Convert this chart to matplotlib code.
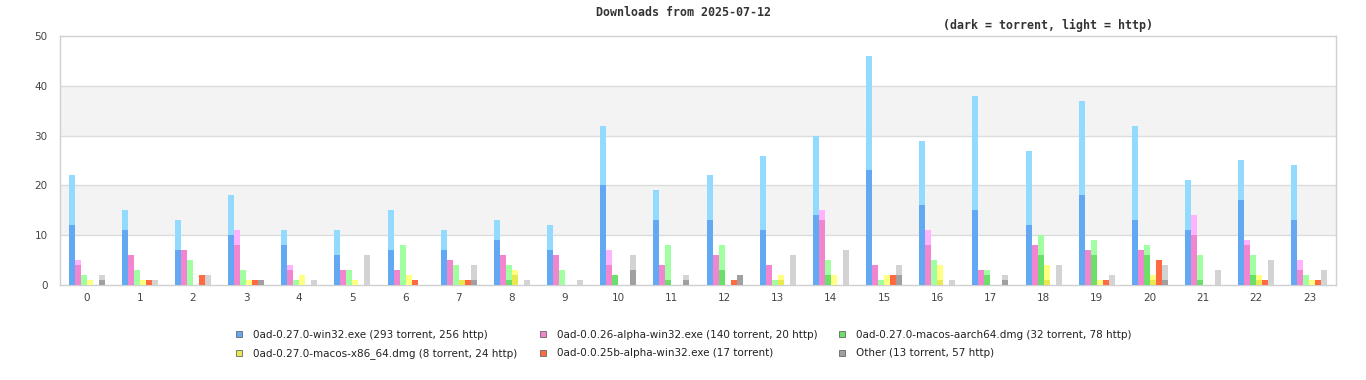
import numpy as np
import matplotlib
matplotlib.use("Agg")
import matplotlib.pyplot as plt
from matplotlib.lines import Line2D

hours = list(range(24))

labels = [
    "0ad-0.27.0-win32.exe (293 torrent, 256 http)",
    "0ad-0.0.26-alpha-win32.exe (140 torrent, 20 http)",
    "0ad-0.27.0-macos-aarch64.dmg (32 torrent, 78 http)",
    "0ad-0.27.0-macos-x86_64.dmg (8 torrent, 24 http)",
    "0ad-0.0.25b-alpha-win32.exe (17 torrent)",
    "Other (13 torrent, 57 http)",
]

# torrent / http downloads per hour
win32_t = [12, 11, 7, 10, 8, 6, 7, 7, 9, 7, 20, 13, 13, 11, 14, 23, 16, 15, 12, 18, 13, 11, 17, 13]
win32_h = [10, 4, 6, 8, 3, 5, 8, 4, 4, 5, 12, 6, 9, 15, 16, 23, 13, 23, 15, 19, 19, 10, 8, 11]
a26_t = [4, 6, 7, 8, 3, 3, 3, 5, 6, 6, 4, 4, 6, 4, 13, 4, 8, 3, 8, 7, 7, 10, 8, 3]
a26_h = [1, 0, 0, 3, 1, 0, 0, 0, 0, 0, 3, 0, 0, 0, 2, 0, 3, 0, 0, 0, 0, 4, 1, 2]
arm_t = [0, 0, 0, 0, 0, 0, 0, 0, 1, 0, 2, 1, 3, 0, 2, 0, 0, 2, 6, 6, 6, 1, 2, 0]
arm_h = [2, 3, 5, 3, 1, 3, 8, 4, 3, 3, 0, 7, 5, 1, 3, 1, 5, 1, 4, 3, 2, 5, 4, 2]
x86_t = [0, 0, 0, 0, 0, 0, 0, 1, 2, 0, 0, 0, 0, 1, 0, 0, 1, 0, 1, 0, 1, 0, 1, 0]
x86_h = [1, 1, 0, 1, 2, 1, 2, 0, 1, 0, 0, 0, 0, 1, 2, 2, 3, 0, 3, 1, 1, 0, 1, 1]
a25_t = [0, 1, 2, 1, 0, 0, 1, 1, 0, 0, 0, 0, 1, 0, 0, 2, 0, 0, 0, 1, 5, 0, 1, 1]
a25_h = [0] * 24
oth_t = [1, 0, 0, 1, 0, 0, 0, 1, 0, 0, 3, 1, 2, 0, 0, 2, 0, 1, 0, 0, 1, 0, 0, 0]
oth_h = [1, 1, 2, 0, 1, 6, 0, 3, 1, 1, 3, 1, 0, 6, 7, 2, 1, 1, 4, 2, 3, 3, 5, 3]

torrent = [win32_t, a26_t, arm_t, x86_t, a25_t, oth_t]
http = [win32_h, a26_h, arm_h, x86_h, a25_h, oth_h]

dark = ["#62a8f2", "#f285d0", "#6ae06a", "#e8e850", "#ff6a40", "#a0a0a0"]
light = ["#92dbff", "#ffb3ff", "#a0ffa0", "#ffff80", "#ff6a40", "#d3d3d3"]

fig = plt.figure(figsize=(13.66, 3.8), dpi=100)
ax = fig.add_axes([60 / 1366, 1 - 285 / 380, 1276 / 1366, 249 / 380])

# banded background
for lo in (10, 30):
    ax.axhspan(lo, lo + 10, color="#f3f3f3", zorder=0, lw=0)
for y in (10, 20, 30, 40):
    ax.axhline(y, color="#dcdcdc", lw=1, zorder=1)

x = np.array(hours) + 0.5
w = 0.113
for i in range(6):
    xs = x + (i - 2.5) * w
    t = np.array(torrent[i])
    h = np.array(http[i])
    ax.bar(xs, t, width=w, color=dark[i], lw=0, zorder=3)
    ax.bar(xs, h, width=w, bottom=t, color=light[i], lw=0, zorder=3)

ax.set_xlim(0, 24)
ax.set_ylim(0, 50)
ax.set_xticks(x)
ax.set_xticklabels([str(hh) for hh in hours])
ax.set_yticks(range(0, 51, 10))
ax.tick_params(length=0, labelsize=7.5, labelcolor="#444444")
ax.tick_params(axis="y", pad=9)
ax.tick_params(axis="x", pad=6)
for s in ax.spines.values():
    s.set_color("#d0d0d0")
    s.set_linewidth(1)

fig.text(0.5, 1 - 13 / 380, "Downloads from 2025-07-12", ha="center", va="center",
         family="DejaVu Sans Mono", weight="bold", fontsize=8.4, color="#333333")
fig.text(1048 / 1366, 1 - 25 / 380, "(dark = torrent, light = http)", ha="center", va="center",
         family="DejaVu Sans Mono", weight="bold", fontsize=8.4, color="#333333")

handles = [Line2D([], [], marker="s", linestyle="", markersize=5,
                  markerfacecolor=dark[i], markeredgecolor="#666666", markeredgewidth=0.6)
           for i in range(6)]
# legend fills column-first, reorder so it reads row by row
order = [0, 3, 1, 4, 2, 5]
fig.legend([handles[i] for i in order], [labels[i] for i in order],
           loc="center", bbox_to_anchor=(683.5 / 1366, 1 - 344.5 / 380),
           ncol=3, frameon=False, fontsize=7.5, handlelength=0.8, handletextpad=0.95,
           columnspacing=2.0, labelspacing=0.8, borderpad=0, labelcolor="#222222")

fig.savefig("out.png", dpi=100)
